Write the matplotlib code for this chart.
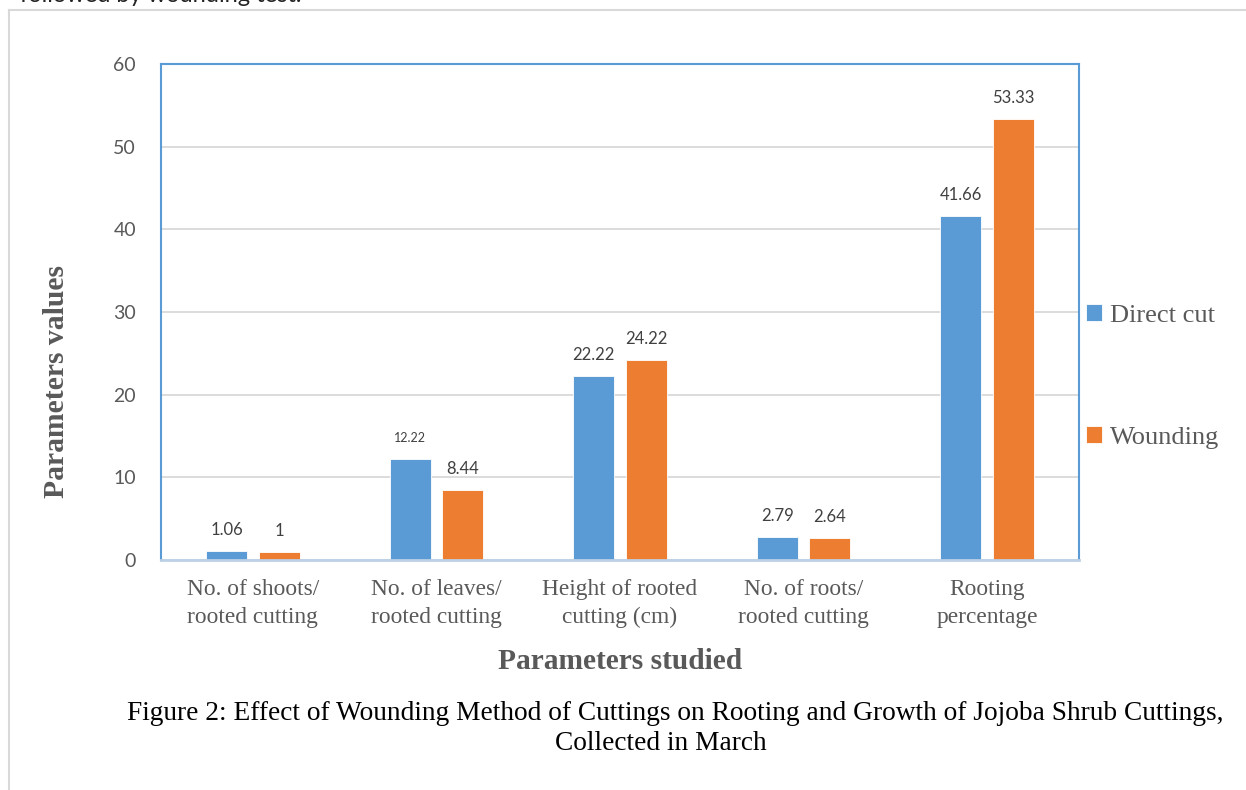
import matplotlib
matplotlib.use("Agg")
import matplotlib.pyplot as plt
import numpy as np
from matplotlib.lines import Line2D

categories = ["No. of shoots/\nrooted cutting", "No. of leaves/\nrooted cutting",
              "Height of rooted\ncutting (cm)", "No. of roots/\nrooted cutting",
              "Rooting\npercentage"]
direct_cut = [1.06, 12.22, 22.22, 2.79, 41.66]
wounding = [1, 8.44, 24.22, 2.64, 53.33]
direct_labels = ["1.06", "12.22", "22.22", "2.79", "41.66"]
wounding_labels = ["1", "8.44", "24.22", "2.64", "53.33"]
yticks = [0, 10, 20, 30, 40, 50, 60]

W, H = 1246, 790
fig = plt.figure(figsize=(W / 100, H / 100), dpi=100)
fig.patch.set_facecolor("white")

# outer frame
fig.add_artist(Line2D([9 / W, 9 / W], [0, 1 - 10 / H], color="#D9D9D9", lw=1.5, transform=fig.transFigure))
fig.add_artist(Line2D([9 / W, 1], [1 - 10 / H, 1 - 10 / H], color="#D9D9D9", lw=1.5, transform=fig.transFigure))

# clipped preceding text line (only its lowest part is visible in the reference)
fig.text(20 / W, 1 - 1.5 / H, "followed by wounding test.", fontsize=17, family="Lato",
         color="#222222", va="baseline", ha="left")

ax = fig.add_axes([161 / W, 1 - 560 / H, (1079 - 161) / W, (560 - 64) / H])

blue = "#5B9BD5"
orange = "#ED7D31"
x = np.arange(len(categories))
bw = 0.223
off = 0.143
ax.bar(x - off, direct_cut, bw, color=blue, edgecolor="white", linewidth=0.6, label="Direct cut", zorder=3)
ax.bar(x + off, wounding, bw, color=orange, edgecolor="white", linewidth=0.6, label="Wounding", zorder=3)

for i in range(len(categories)):
    fs = 9 if direct_labels[i] == "12.22" else 12
    ax.annotate(direct_labels[i], (x[i] - off, direct_cut[i]), xytext=(0, 15), textcoords="offset points",
                ha="center", va="center", fontsize=fs, color="#404040", family="Lato")
    ax.annotate(wounding_labels[i], (x[i] + off, wounding[i]), xytext=(0, 15), textcoords="offset points",
                ha="center", va="center", fontsize=12, color="#404040", family="Lato")

ax.set_xlim(-0.5, len(categories) - 0.5)
ax.set_ylim(0, 60)
ax.set_yticks(yticks)
ax.set_yticklabels([str(t) for t in yticks], fontsize=14, color="#595959", family="Lato")
ax.set_xticks(x)
ax.set_xticklabels(categories, fontsize=16.8, color="#595959", family="Liberation Serif", linespacing=1.45)
ax.tick_params(axis="both", length=0)
ax.tick_params(axis="y", pad=18)
ax.tick_params(axis="x", pad=13.5)
ax.yaxis.grid(True, color="#D9D9D9", lw=1.3, zorder=0)
ax.set_axisbelow(True)
for s in ["left", "right", "top"]:
    ax.spines[s].set_color(blue)
    ax.spines[s].set_linewidth(1.5)
ax.spines["bottom"].set_color("#BCD0E6")
ax.spines["bottom"].set_linewidth(2)
ax.spines["bottom"].set_zorder(4)

ax.set_xlabel("Parameters studied", fontsize=21.2, fontweight="bold", family="Liberation Serif",
              color="#595959", labelpad=14)
fig.text(57 / W, 1 - 381 / H, "Parameters values", rotation=90, fontsize=21.3, fontweight="bold",
         family="Liberation Serif", color="#595959", ha="center", va="center")

leg = ax.legend(loc="center left", bbox_to_anchor=(1.008, 0.37), frameon=False,
                prop={"family": "Liberation Serif", "size": 19}, handlelength=0.6, handleheight=0.6,
                handletextpad=0.3, labelspacing=3.75, borderpad=0, borderaxespad=0)
for t in leg.get_texts():
    t.set_color("#595959")

fig.text(675 / W, 1 - 713 / H,
         "Figure 2: Effect of Wounding Method of Cuttings on Rooting and Growth of Jojoba Shrub Cuttings,",
         fontsize=19.7, family="Liberation Serif", color="black", ha="center", va="center")
fig.text(661 / W, 1 - 743 / H, "Collected in March",
         fontsize=19.7, family="Liberation Serif", color="black", ha="center", va="center")

fig.savefig("out.png", dpi=100, facecolor="white")
